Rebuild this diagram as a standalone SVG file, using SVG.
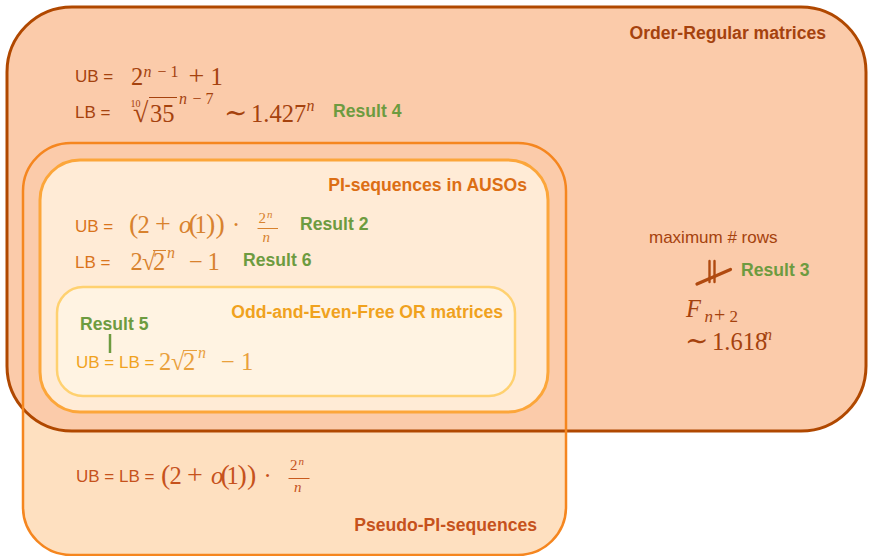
<svg xmlns="http://www.w3.org/2000/svg" width="869" height="556" viewBox="0 0 869 556">
<style>
.lbl{font-family:"Liberation Sans",Arial,sans-serif;font-size:17px}
.ttl{font-family:"Liberation Sans",Arial,sans-serif;font-size:17.6px;font-weight:bold}
.res{font-family:"Liberation Sans",Arial,sans-serif;font-size:17.6px;font-weight:bold;fill:#6d9b40}
.m{font-family:"Liberation Serif","DejaVu Serif",serif;font-size:24.5px}
.it{font-style:italic}
.sup{font-size:16px}
.fr{font-size:15px}
.frs{font-size:11px}
.big{font-size:28px}
.or{fill:#a5420e}
.pi{fill:#d9741c}
.pim{fill:#d8822e}
.odd{fill:#f0a21e}
.oddm{fill:#e9a03c}
.ps{fill:#c6521c}
</style>
<g id="pseudo-pi-sequences-fill">
<rect x="23" y="143" width="543" height="412" rx="48" fill="#fee0c0"/>
</g>
<g id="order-regular-matrices">
<rect x="7" y="7" width="859" height="424" rx="65" fill="#fbcbaa" stroke="#b04800" stroke-width="3"/>
<text class="ttl or" x="826" y="39" text-anchor="end">Order-Regular matrices</text>
<text class="lbl or" x="75" y="82">UB =</text>
<text class="m or" y="84.5"><tspan x="131">2</tspan><tspan class="sup it" x="143.5" y="77">n</tspan><tspan class="sup" x="157.5">−</tspan><tspan class="sup" x="170.5">1</tspan><tspan class="big" x="188.5" y="84.5">+</tspan><tspan x="210.5">1</tspan></text>
<text class="lbl or" x="75" y="118">LB =</text>
<text class="m or" y="121.5"><tspan style="font-size:10px" x="130.5" y="107">10</tspan><tspan class="big" x="133" y="122">√</tspan><tspan x="150" y="121.5">35</tspan><tspan class="sup it" x="179" y="104">n</tspan><tspan class="sup" x="192.5">−</tspan><tspan class="sup" x="205.5">7</tspan><tspan class="big" x="224" y="122">∼</tspan><tspan x="251" y="121.5">1.427</tspan><tspan class="sup it" x="306.5" y="111">n</tspan></text>
<line x1="149" y1="97.5" x2="177" y2="97.5" stroke="#a5420e" stroke-width="1"/>
<text class="res" x="333" y="117">Result 4</text>
<text class="lbl or" x="649" y="243">maximum # rows</text>
<g stroke="#b04a10" stroke-linecap="round">
<line x1="697" y1="284" x2="730.5" y2="269.5" stroke-width="3.2"/>
<line x1="709.5" y1="261" x2="709.5" y2="282" stroke-width="2.4"/>
<line x1="714.5" y1="261" x2="714.5" y2="282" stroke-width="2.4"/>
</g>
<text class="res" x="741" y="276">Result 3</text>
<text class="m or" y="317"><tspan class="it" x="686">F</tspan><tspan style="font-size:17px" class="it" x="704.5" y="322">n</tspan><tspan style="font-size:20px" x="714">+</tspan><tspan style="font-size:17px" x="729.5">2</tspan></text>
<text class="m or" y="350"><tspan class="big" x="685">∼</tspan><tspan x="712">1.618</tspan><tspan class="sup it" x="764" y="340">n</tspan></text>
</g>
<g id="pseudo-pi-sequences">
<rect x="23" y="143" width="543" height="412" rx="48" fill="none" stroke="#f5861f" stroke-width="2.5"/>
<text class="lbl ps" x="76" y="482">UB = LB =</text>
<text class="m ps" y="484"><tspan class="big" x="161">(</tspan><tspan x="169.5">2</tspan><tspan class="big" x="187">+</tspan><tspan class="it" x="211">o</tspan><tspan class="big" x="220.5">(</tspan><tspan x="226.5">1</tspan><tspan class="big" x="237.5">)</tspan><tspan class="big" x="247">)</tspan><tspan x="263.5">·</tspan><tspan class="fr" x="290" y="470">2</tspan><tspan class="frs it" x="298.5" y="464.5">n</tspan><tspan class="fr it" x="294" y="491.5">n</tspan></text>
<line x1="288.5" y1="478.5" x2="309.5" y2="478.5" stroke="#c85a1e" stroke-width="1"/>
<text class="ttl ps" x="537" y="531" text-anchor="end">Pseudo-PI-sequences</text>
</g>
<g id="pi-sequences-in-ausos">
<rect x="40" y="160" width="508" height="252" rx="40" fill="#ffebd6" stroke="#fca63a" stroke-width="3"/>
<text class="ttl" fill="#dc6e14" x="527" y="191" text-anchor="end">PI-sequences in AUSOs</text>
<text class="lbl pi" x="75" y="232">UB =</text>
<text class="m pim" y="233"><tspan class="big" x="129">(</tspan><tspan x="137.5">2</tspan><tspan class="big" x="155">+</tspan><tspan class="it" x="179">o</tspan><tspan class="big" x="188.5">(</tspan><tspan x="194.5">1</tspan><tspan class="big" x="206">)</tspan><tspan class="big" x="215.5">)</tspan><tspan x="232">·</tspan><tspan class="fr" x="258.5" y="223">2</tspan><tspan class="frs it" x="267" y="217.5">n</tspan><tspan class="fr it" x="262.5" y="241.5">n</tspan></text>
<line x1="257.5" y1="228.5" x2="278" y2="228.5" stroke="#d8822e" stroke-width="1"/>
<text class="res" x="300" y="230">Result 2</text>
<text class="lbl pi" x="75" y="268">LB =</text>
<text class="m pim" y="270"><tspan x="130.5">2</tspan><tspan x="142">√</tspan><tspan x="153">2</tspan><tspan class="sup it" x="167" y="258">n</tspan><tspan x="189" y="270">−</tspan><tspan x="207.5">1</tspan></text>
<line x1="153" y1="250.5" x2="166" y2="250.5" stroke="#d8822e" stroke-width="1"/>
<text class="res" x="243" y="266">Result 6</text>
</g>
<g id="odd-and-even-free-or-matrices">
<rect x="57" y="287" width="458" height="109" rx="26" fill="#fff3e2" stroke="#ffd170" stroke-width="2.5"/>
<text class="ttl odd" x="503" y="318" text-anchor="end">Odd-and-Even-Free OR matrices</text>
<text class="res" x="80" y="330">Result 5</text>
<text class="lbl odd" x="76" y="368">UB = LB =</text>
<text class="m oddm" y="370"><tspan x="159">2</tspan><tspan x="171">√</tspan><tspan x="183">2</tspan><tspan class="sup it" x="198" y="358">n</tspan><tspan x="221" y="370">−</tspan><tspan x="241">1</tspan></text>
<line x1="183" y1="350.5" x2="197" y2="350.5" stroke="#e9a03c" stroke-width="1"/>
</g>
<g id="connectors">
<line x1="110" y1="334" x2="110" y2="353" stroke="#6d9b40" stroke-width="2.5"/>
</g>
</svg>
